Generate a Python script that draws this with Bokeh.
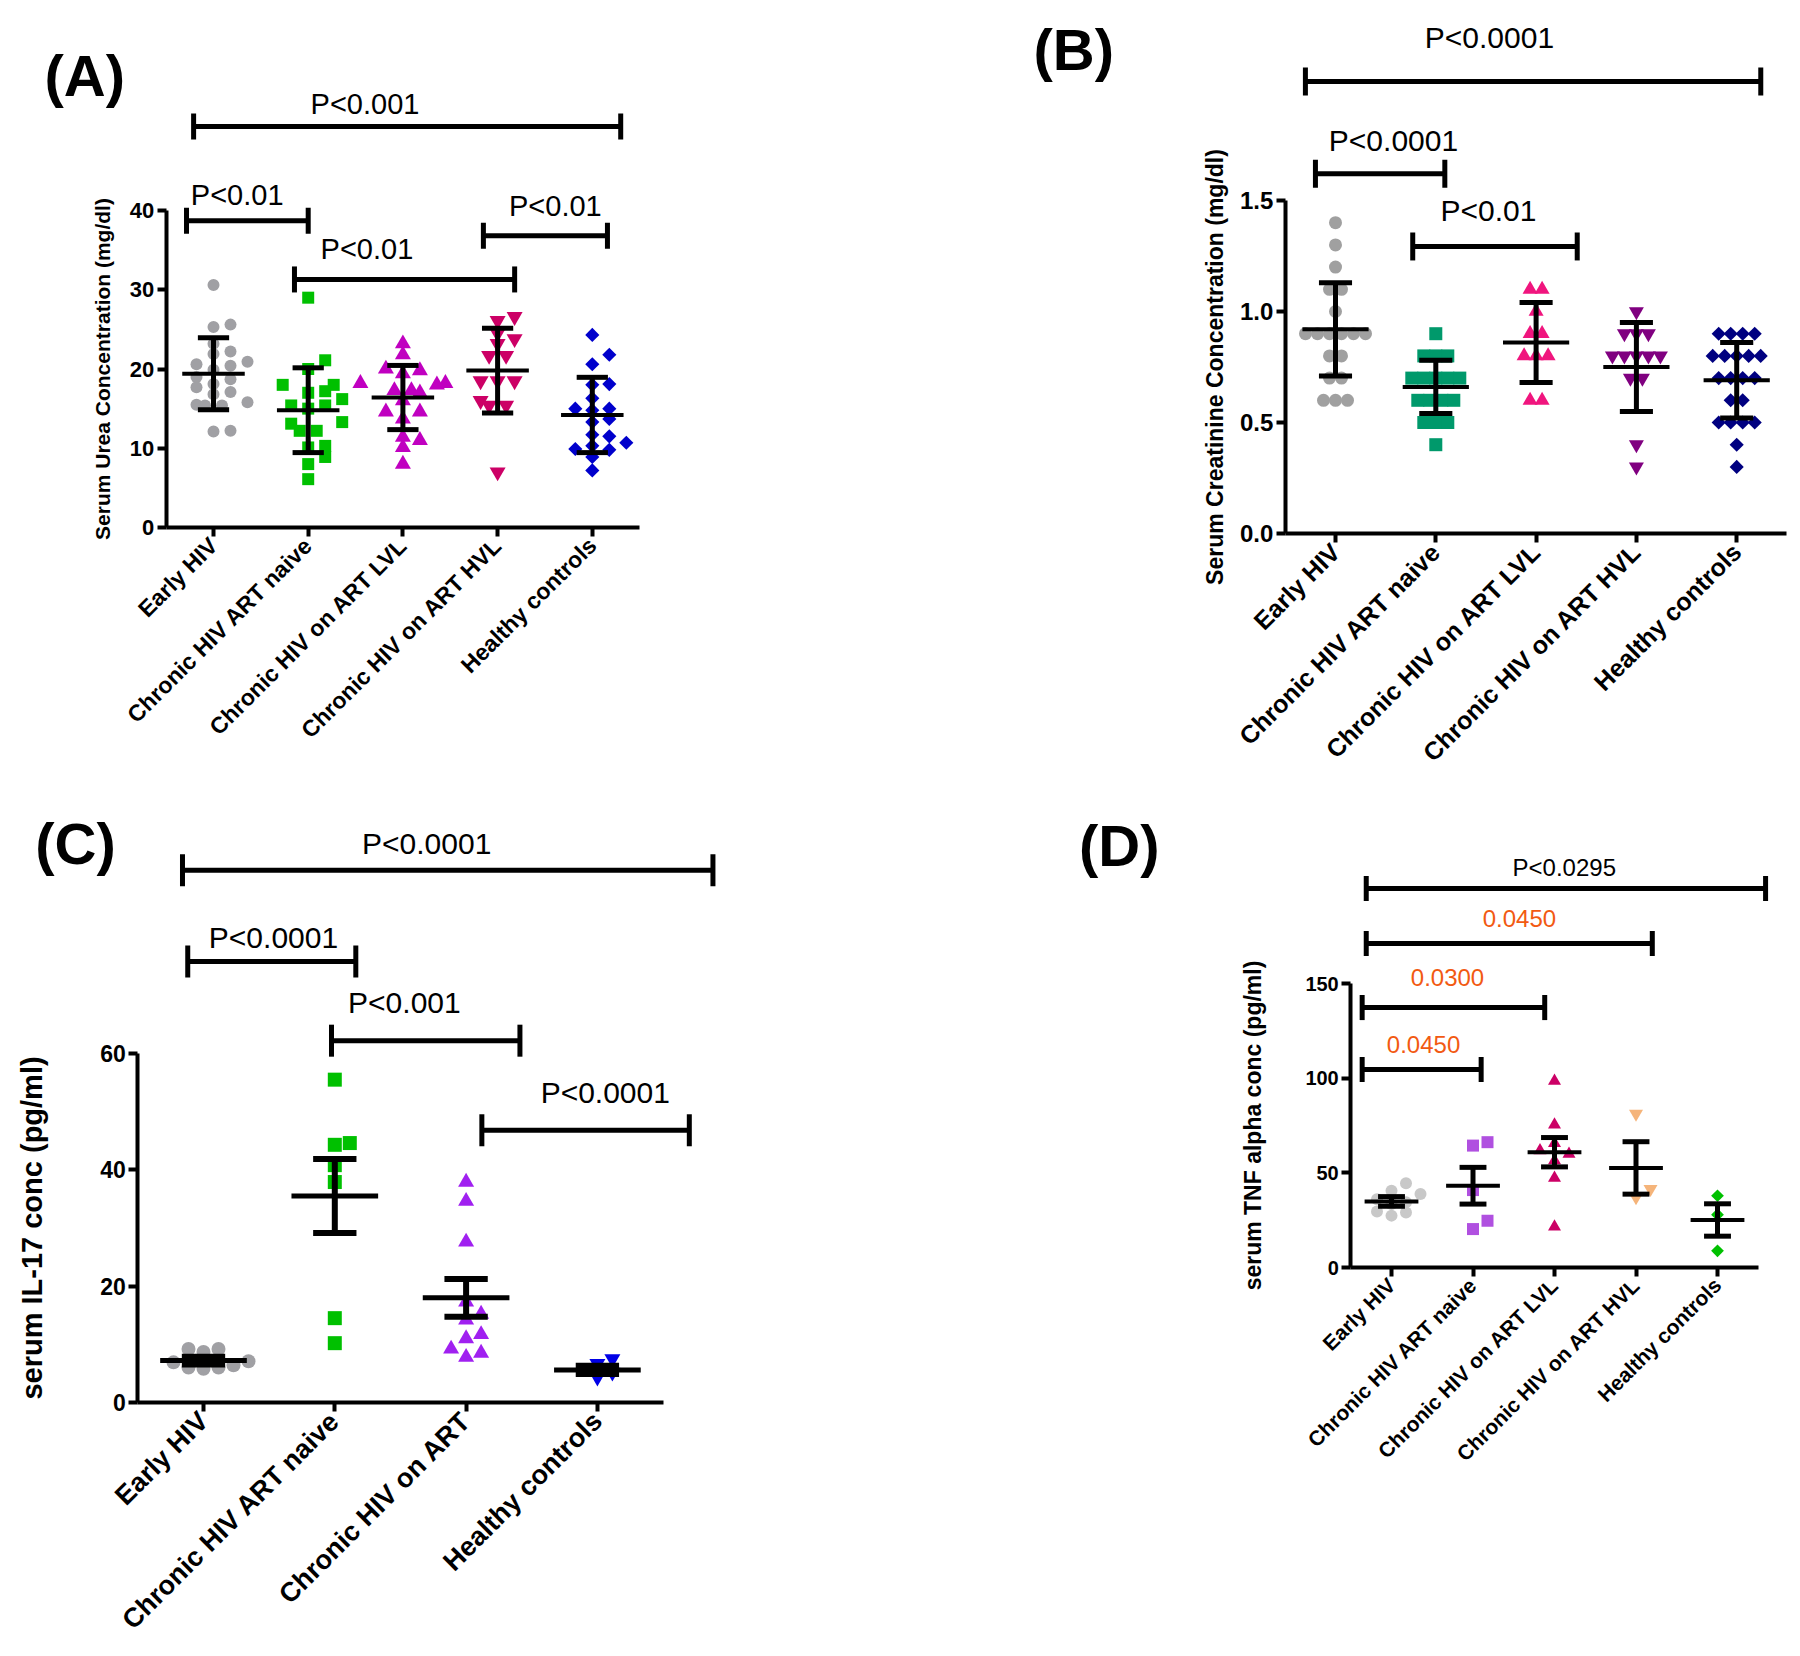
import math
import numpy as np
from bokeh.plotting import figure
from bokeh.models import Range1d, FixedTicker, ColumnDataSource, NumeralTickFormatter
from bokeh.layouts import row, column
from bokeh.embed import file_html
from bokeh.resources import INLINE
from bokeh.core.properties import value

FONT = "Liberation Sans"

# ---------------- data ----------------
groups_5 = ["Early HIV", "Chronic HIV ART naive", "Chronic HIV on ART LVL",
            "Chronic HIV on ART HVL", "Healthy controls"]
groups_4 = ["Early HIV", "Chronic HIV ART naive", "Chronic HIV on ART", "Healthy controls"]

# (A) serum urea, mg/dl (mean +/- SD)
urea_early = [30.6, 25.6, 25.3, 23.2, 22.2, 21.9, 20.9, 20.6, 20.4, 19.9, 19.0, 18.7,
              18.1, 17.7, 17.1, 16.8, 15.8, 15.5, 15.4, 15.4, 12.2, 12.1]
urea_naive = [29.0, 21.1, 20.0, 18.0, 18.0, 17.2, 17.0, 16.2, 15.4, 15.4, 15.0, 13.3,
              13.1, 12.2, 12.2, 10.3, 10.1, 8.9, 8.0, 6.1]
urea_lvl = [23.2, 21.8, 20.0, 19.8, 19.4, 18.2, 18.2, 18.0, 17.3, 17.3, 17.0, 16.0,
            14.6, 14.6, 13.7, 11.4, 11.0, 10.1, 8.0]
urea_hvl = [26.6, 26.1, 24.5, 23.8, 23.2, 21.7, 21.7, 18.5, 18.5, 18.5, 16.0, 15.4, 15.4, 7.0]
urea_healthy = [24.3, 21.8, 20.6, 18.1, 18.0, 16.3, 15.0, 15.0, 14.8, 13.7, 13.3, 11.7,
                11.5, 10.7, 10.3, 9.9, 9.8, 8.9, 7.2]
urea_mean = [19.4, 14.8, 16.4, 19.8, 14.2]
urea_sd = [4.55, 5.35, 4.05, 5.35, 4.75]
# bracket: x from, x to, level, label, label x, label y
urea_brackets = [(0.715, 2.0, 38.7, "P<0.01", 1.25, 41.9),
                 (1.855, 4.18, 31.3, "P<0.01", 2.62, 35.2),
                 (3.85, 5.16, 36.8, "P<0.01", 4.61, 40.6),
                 (0.79, 5.30, 50.6, "P<0.001", 2.60, 53.5)]

# (B) serum creatinine, mg/dl (mean +/- SD)
creat_early = [1.4, 1.3, 1.2, 1.1, 1.1, 1.0, 0.9, 0.9, 0.9, 0.9, 0.9, 0.9,
               0.8, 0.8, 0.7, 0.7, 0.6, 0.6, 0.6]
creat_naive = [0.9, 0.8, 0.8, 0.8, 0.7, 0.7, 0.7, 0.7, 0.7, 0.6, 0.6, 0.6, 0.6,
               0.5, 0.5, 0.5, 0.4]
creat_lvl = [1.1, 1.1, 1.0, 0.9, 0.9, 0.8, 0.8, 0.8, 0.6, 0.6]
creat_hvl = [1.0, 0.9, 0.9, 0.9, 0.8, 0.8, 0.8, 0.8, 0.8, 0.7, 0.7, 0.4, 0.3]
creat_healthy = [0.9, 0.9, 0.9, 0.9, 0.8, 0.8, 0.8, 0.8, 0.8, 0.7, 0.7, 0.7, 0.7,
                 0.6, 0.6, 0.5, 0.5, 0.5, 0.5, 0.4, 0.3]
creat_mean = [0.92, 0.66, 0.86, 0.75, 0.69]
creat_sd = [0.21, 0.12, 0.18, 0.20, 0.17]
creat_brackets = [(0.70, 5.24, 2.036, "P<0.0001", 2.535, 2.234),
                  (0.80, 2.09, 1.62, "P<0.0001", 1.578, 1.770),
                  (1.77, 3.41, 1.293, "P<0.01", 2.525, 1.455)]

# (C) serum IL-17, pg/ml (mean +/- SEM)
il17_early = [9.2, 9.2, 8.7, 7.1, 6.9, 6.4, 6.0, 6.0, 5.8]
il17_naive = [55.5, 44.6, 44.3, 40.8, 37.9, 14.5, 10.2]
il17_art = [37.9, 34.6, 27.6, 17.3, 15.2, 14.2, 11.7, 11.0, 9.2, 8.5, 7.8]
il17_healthy = [7.5, 6.7, 5.2, 4.35]
il17_mean = [7.2, 35.5, 18.0, 5.6]
il17_sem = [0.65, 6.35, 3.25, 0.7]
il17_brackets = [(0.84, 4.88, 91.5, "P<0.0001", 2.70, 96.1),
                 (0.88, 2.16, 75.8, "P<0.0001", 1.533, 79.9),
                 (1.975, 3.41, 62.2, "P<0.001", 2.53, 68.8),
                 (3.12, 4.70, 46.8, "P<0.0001", 4.06, 53.3)]

# (D) serum TNF alpha, pg/ml (mean +/- SEM)
tnf_early = [44.5, 40.6, 38.8, 36.0, 34.5, 33.5, 29.6, 29.1, 27.4]
tnf_naive = [66.2, 64.4, 40.9, 24.7, 20.3]
tnf_lvl = [98.5, 75.4, 65.6, 61.8, 60.0, 56.5, 47.3, 21.5]
tnf_hvl = [81.2, 41.5, 37.1]
tnf_healthy = [37.9, 27.9, 8.8]
tnf_mean = [34.9, 43.2, 60.9, 52.6, 25.1]
tnf_sem = [2.55, 9.7, 7.75, 13.85, 8.55]
tnf_brackets = [(0.69, 5.59, 200.2, "P<0.0295", 3.12, 211.3),
                (0.69, 4.20, 171.2, "0.0450", 2.57, 184.4),
                (0.64, 2.88, 137.3, "0.0300", 1.687, 153.2),
                (0.64, 2.10, 104.6, "0.0450", 1.393, 117.8)]
tnf_bracket_colors = ["black", "#F25A12", "#F25A12", "#F25A12"]


# ---------------- helpers ----------------
def swarm_offsets(vals, ppx, ppy, step, diam):
    vals = np.asarray(vals, float)
    order = np.argsort(vals, kind="stable")
    cands = [0.0]
    for k in range(1, 80):
        cands += [k * step / 2.0, -k * step / 2.0]
    placed = []
    offs = np.zeros(len(vals))
    for i in order:
        ypx = vals[i] * ppy
        for c in cands:
            if all(abs(c - px) >= step * 0.999 or abs(ypx - py) >= diam * 0.85
                   for px, py in placed):
                break
        placed.append((c, ypx))
        offs[i] = c
    for v in np.unique(vals):
        idx = np.where(vals == v)[0]
        if len(idx) > 1:
            offs[idx] -= offs[idx].mean()
    return offs / ppx


def make_panel(cfg):
    ox, oy, W, H = cfg["box"]
    cx1, sp, y0, ppy = cfg["anchor"]
    names = cfg["names"]
    n = len(names)
    xr = Range1d(1 - (cx1 - ox) / sp, 1 + (ox + W - cx1) / sp)
    yr = Range1d(-(oy + H - y0) / ppy, (y0 - oy) / ppy)
    p = figure(width=W, height=H, x_range=xr, y_range=yr,
               output_backend="svg", toolbar_location=None, title=None, min_border=0)
    p.outline_line_color = None
    p.grid.visible = False
    p.background_fill_color = "white"
    p.border_fill_color = "white"

    # axes (drawn at x = 0.5 and y = 0)
    xa = p.xaxis[0]
    xa.fixed_location = 0
    xa.bounds = (0.5, n + 0.5)
    xa.ticker = FixedTicker(ticks=list(range(1, n + 1)))
    xa.major_label_overrides = {i + 1: nm for i, nm in enumerate(names)}
    xa.major_label_orientation = math.pi / 4
    xa.major_label_text_font = FONT
    xa.major_label_text_font_style = "bold"
    xa.major_label_text_font_size = cfg["cat_fs"]
    xa.major_label_text_color = "black"
    xa.major_label_standoff = 5
    ya = p.yaxis[0]
    ya.fixed_location = 0.5
    ya.bounds = (0, cfg["ymax"])
    ya.ticker = FixedTicker(ticks=cfg["yticks"])
    if cfg.get("fmt"):
        ya.formatter = NumeralTickFormatter(format=cfg["fmt"])
    ya.major_label_text_font = FONT
    ya.major_label_text_font_style = "bold"
    ya.major_label_text_font_size = cfg["tick_fs"]
    ya.major_label_text_color = "black"
    ya.major_label_standoff = 3
    ya.axis_label = cfg["ylab"]
    ya.axis_label_text_font = FONT
    ya.axis_label_text_font_style = "bold"
    ya.axis_label_text_font_size = cfg["ylab_fs"]
    ya.axis_label_text_color = "black"
    ya.axis_label_standoff = cfg["ylab_so"]
    for ax in (xa, ya):
        ax.axis_line_width = 4
        ax.axis_line_color = "black"
        ax.major_tick_line_width = 4
        ax.major_tick_line_color = "black"
        ax.major_tick_in = 0
        ax.major_tick_out = 9
        ax.minor_tick_line_color = None

    # points
    for i, vals in enumerate(cfg["series"]):
        offs = swarm_offsets(vals, sp, ppy, cfg["step"], cfg["diam"])
        src = ColumnDataSource(dict(x=(i + 1) + offs, y=vals))
        mk = cfg["markers"][i]
        ang = 0.0
        if mk == "diamond":
            mk = "square"
            ang = math.pi / 4
        p.scatter("x", "y", source=src, marker=mk, size=cfg["sizes"][i], angle=ang,
                  fill_color=cfg["colors"][i], line_color=None)

    # mean and error bars
    xs = np.arange(1, n + 1, dtype=float)
    m = np.asarray(cfg["mean"], float)
    e = np.asarray(cfg["err"], float)
    hw, cw = 0.33, 0.165
    p.segment(xs - hw, m, xs + hw, m, line_color="black", line_width=cfg["mean_lw"])
    p.segment(xs, m - e, xs, m + e, line_color="black", line_width=cfg["bar_lw"])
    p.segment(xs - cw, m + e, xs + cw, m + e, line_color="black", line_width=cfg["bar_lw"])
    p.segment(xs - cw, m - e, xs + cw, m - e, line_color="black", line_width=cfg["bar_lw"])

    # significance brackets
    br_ = cfg["brackets"]
    th = cfg["tick_half_px"] / ppy
    x0 = [b[0] for b in br_]
    x1 = [b[1] for b in br_]
    yb = [b[2] for b in br_]
    p.segment(x0, yb, x1, yb, line_color="black", line_width=5)
    p.segment(x0, [y - th for y in yb], x0, [y + th for y in yb], line_color="black", line_width=5)
    p.segment(x1, [y - th for y in yb], x1, [y + th for y in yb], line_color="black", line_width=5)
    tcol = cfg.get("txt_colors", ["black"] * len(br_))
    tsrc = ColumnDataSource(dict(x=[b[4] for b in br_], y=[b[5] for b in br_],
                                 t=[b[3] for b in br_], c=tcol))
    p.text("x", "y", text="t", source=tsrc, text_color="c", text_font=value(FONT),
           text_font_size=cfg["p_fs"], text_align="center", text_baseline="middle")

    # panel letter
    lx, ly = cfg["letter_xy"]
    p.text(x=[lx], y=[ly], text=[cfg["letter"]], text_font=value(FONT),
           text_font_style="bold", text_font_size="58px", text_align="center",
           text_baseline="middle", text_color="black")
    return p


cfgA = dict(box=(0, 0, 700, 800), anchor=(213, 94.7, 527, 7.925), names=groups_5, ymax=40,
            yticks=[0, 10, 20, 30, 40], ylab="Serum Urea Concentration (mg/dl)",
            ylab_fs="21px", ylab_so=13, tick_fs="22px", cat_fs="23px", p_fs="29px",
            series=[urea_early, urea_naive, urea_lvl, urea_hvl, urea_healthy],
            markers=["circle", "square", "triangle", "inverted_triangle", "diamond"],
            colors=["#A0A0A4", "#00C000", "#C000C0", "#CC0066", "#0000CC"],
            sizes=[12, 12, 16, 16, 10], step=17, diam=12,
            mean=urea_mean, err=urea_sd, mean_lw=4, bar_lw=5,
            brackets=urea_brackets, tick_half_px=13, letter="(A)", letter_xy=(-0.36, 57.0))

cfgB = dict(box=(700, 0, 1100, 800), anchor=(1335, 100.3, 533, 222), names=groups_5, ymax=1.5,
            yticks=[0, 0.5, 1.0, 1.5], fmt="0.0", ylab="Serum Creatinine Concentration (mg/dl)",
            ylab_fs="23px", ylab_so=9, tick_fs="24px", cat_fs="25px", p_fs="30px",
            series=[creat_early, creat_naive, creat_lvl, creat_hvl, creat_healthy],
            markers=["circle", "square", "triangle", "inverted_triangle", "diamond"],
            colors=["#A0A0A0", "#00996B", "#F0157E", "#800080", "#000080"],
            sizes=[13, 13, 15, 15, 10], step=12, diam=13,
            mean=creat_mean, err=creat_sd, mean_lw=4, bar_lw=5,
            brackets=creat_brackets, tick_half_px=14, letter="(B)", letter_xy=(-1.61, 2.18))

cfgC = dict(box=(0, 800, 760, 856), anchor=(203, 131.3, 1402, 5.817), names=groups_4, ymax=60,
            yticks=[0, 20, 40, 60], ylab="serum IL-17 conc (pg/ml)",
            ylab_fs="29px", ylab_so=49, tick_fs="23px", cat_fs="27px", p_fs="30px",
            series=[il17_early, il17_naive, il17_art, il17_healthy],
            markers=["circle", "square", "triangle", "inverted_triangle"],
            colors=["#A0A0A4", "#00C000", "#A020F0", "#0000E6"],
            sizes=[14, 14, 16, 16], step=15, diam=14,
            mean=il17_mean, err=il17_sem, mean_lw=5, bar_lw=6,
            brackets=il17_brackets, tick_half_px=16, letter="(C)", letter_xy=(0.025, 96.1))

cfgD = dict(box=(760, 800, 1040, 856), anchor=(1391, 81.5, 1267, 1.893), names=groups_5, ymax=150,
            yticks=[0, 50, 100, 150], ylab="serum TNF alpha conc (pg/ml)",
            ylab_fs="23px", ylab_so=36, tick_fs="20px", cat_fs="21px", p_fs="24px",
            series=[tnf_early, tnf_naive, tnf_lvl, tnf_hvl, tnf_healthy],
            markers=["circle", "square", "triangle", "inverted_triangle", "diamond"],
            colors=["#C8C8C8", "#B050E0", "#CC0066", "#F5B47A", "#00C000"],
            sizes=[12, 12, 13, 14, 9], step=14.5, diam=12,
            mean=tnf_mean, err=tnf_sem, mean_lw=4, bar_lw=5,
            brackets=tnf_brackets, txt_colors=tnf_bracket_colors, tick_half_px=12.5,
            letter="(D)", letter_xy=(-2.34, 222.9))

pA = make_panel(cfgA)
pB = make_panel(cfgB)
pC = make_panel(cfgC)
pD = make_panel(cfgD)

layout = column(row(pA, pB), row(pC, pD))
open("out.html", "w").write(file_html(layout, INLINE))
